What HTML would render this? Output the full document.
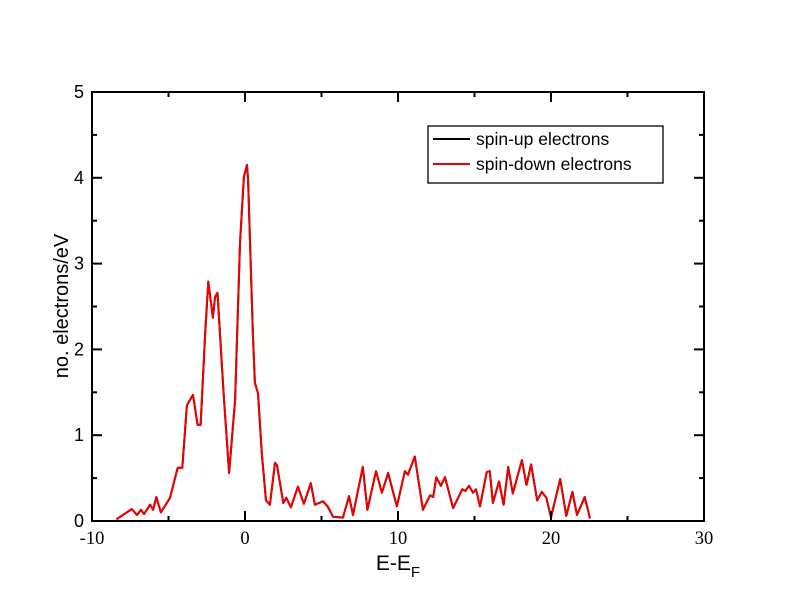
<!DOCTYPE html>
<html><head><meta charset="utf-8"><style>
html,body{margin:0;padding:0;background:#fff;}
svg{display:block;}
</style></head><body>
<svg id="chart" width="792" height="612" viewBox="0 0 792 612">
<rect x="0" y="0" width="792" height="612" fill="#fff"/>
<g id="plot"></g>
<g id="axes"></g>
<text x="398" y="570" font-family="Liberation Sans, sans-serif" font-size="21" text-anchor="middle">E-E<tspan font-size="15" dy="7">F</tspan></text>
<text transform="translate(68,306) rotate(-90)" font-family="Liberation Sans, sans-serif" font-size="20" text-anchor="middle">no. electrons/eV</text>
<g>
<rect x="428" y="126" width="235" height="57" fill="#fff" stroke="#000" stroke-width="1.3"/>
<line x1="433" y1="139" x2="470" y2="139" stroke="#000" stroke-width="2"/>
<text x="476" y="145" font-family="Liberation Sans, sans-serif" font-size="17.5">spin-up electrons</text>
<line x1="433" y1="164" x2="470" y2="164" stroke="#e00" stroke-width="2"/>
<text x="476" y="170" font-family="Liberation Sans, sans-serif" font-size="17.5">spin-down electrons</text>
</g>
</svg>
<script>
const energies = [-8.4,-7.4,-7.06,-6.8,-6.6,-6.2,-6.0,-5.8,-5.5,-4.9,-4.4,-4.1,-3.8,-3.4,-3.1,-2.9,-2.6,-2.4,-2.1,-1.96,-1.8,-1.4,-1.04,-0.65,-0.33,-0.07,0.13,0.2,0.52,0.65,0.85,1.1,1.37,1.63,1.96,2.09,2.5,2.7,3.0,3.46,3.85,4.3,4.57,5.1,5.4,5.75,6.4,6.8,7.06,7.7,8.0,8.56,8.95,9.35,9.93,10.45,10.65,11.1,11.63,12.1,12.3,12.5,12.8,13.07,13.6,14.2,14.4,14.64,14.9,15.1,15.36,15.8,16.0,16.2,16.6,16.9,17.2,17.5,18.1,18.4,18.7,19.1,19.4,19.7,20.0,20.6,21.0,21.4,21.7,22.2,22.55];
const spinDown = [0.02,0.14,0.07,0.13,0.08,0.19,0.13,0.28,0.1,0.27,0.62,0.62,1.35,1.47,1.12,1.12,2.19,2.79,2.37,2.61,2.66,1.49,0.56,1.41,3.24,4.01,4.15,3.97,2.14,1.61,1.49,0.79,0.24,0.19,0.68,0.65,0.21,0.27,0.16,0.40,0.2,0.44,0.19,0.23,0.17,0.05,0.04,0.29,0.07,0.63,0.13,0.58,0.33,0.56,0.17,0.58,0.54,0.75,0.13,0.30,0.28,0.51,0.41,0.51,0.15,0.37,0.35,0.41,0.33,0.37,0.17,0.57,0.58,0.21,0.46,0.19,0.63,0.32,0.71,0.42,0.66,0.24,0.34,0.27,0.04,0.49,0.06,0.34,0.07,0.28,0.03];
const spinUp = spinDown.slice();
const xTicks = [-10,0,10,20,30];
const yTicks = [0,1,2,3,4,5];

const X0=92,X1=704,Y0=521,Y1=92;
const xMin=-10,xMax=30,yMin=0,yMax=5;
function sx(v){return X0+(v-xMin)/(xMax-xMin)*(X1-X0);}
function sy(v){return Y0-(v-yMin)/(yMax-yMin)*(Y0-Y1);}
const NS="http://www.w3.org/2000/svg";
const plot=document.getElementById('plot'), axes=document.getElementById('axes');
function mk(tag,attrs,parent){const e=document.createElementNS(NS,tag);for(const k in attrs)e.setAttribute(k,attrs[k]);parent.appendChild(e);return e;}

function series(vals,color,name){
  const d=energies.map((x,i)=>(i?'L':'M')+sx(x).toFixed(1)+','+sy(vals[i]).toFixed(1)).join(' ');
  const p=mk('path',{d:d,fill:'none',stroke:color,'stroke-width':2,'stroke-linejoin':'round'},plot);
  
  
}
series(spinUp,'#000','spin-up-line');
series(spinDown,'#e00','spin-down-line');

const frame=mk('rect',{x:X0,y:Y1,width:X1-X0,height:Y0-Y1,fill:'none',stroke:'#000','stroke-width':2},axes);



for(let v=xMin; v<=xMax; v+=5){
  const major = xTicks.indexOf(v)>=0; const L = major?10:5; const x=sx(v);
  const t1=mk('line',{x1:x,y1:Y0,x2:x,y2:Y0-L,stroke:'#000','stroke-width':2},axes);
  
  
  const t2=mk('line',{x1:x,y1:Y1,x2:x,y2:Y1+L,stroke:'#000','stroke-width':2},axes);
  
  
}
xTicks.forEach(v=>{
  const t=mk('text',{x:sx(v),y:Y0+23,'font-family':'Liberation Serif, serif','font-size':18.5,'text-anchor':'middle'},axes);
  t.textContent=String(v);
  
  
});
for(let v=yMin; v<=yMax+1e-9; v+=0.5){
  const major = Math.abs(v-Math.round(v))<1e-9; const L = major?10:5; const y=sy(v);
  const t1=mk('line',{x1:X0,y1:y,x2:X0+L,y2:y,stroke:'#000','stroke-width':2},axes);
  
  
  const t2=mk('line',{x1:X1,y1:y,x2:X1-L,y2:y,stroke:'#000','stroke-width':2},axes);
  
  
}
yTicks.forEach(v=>{
  const t=mk('text',{x:X0-8,y:sy(v)+6,'font-family':'Liberation Sans, sans-serif','font-size':18,'text-anchor':'end'},axes);
  t.textContent=String(v);
  
  
});
</script>
</body></html>
